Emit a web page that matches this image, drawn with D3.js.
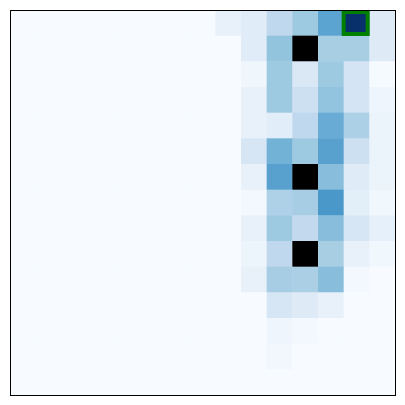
<!DOCTYPE html>
<html><head><meta charset="utf-8">
<script src="https://cdn.jsdelivr.net/npm/d3@7"></script>
<style>html,body{margin:0;padding:0;background:#fff}</style>
</head><body>
<script>
// 15x15 grid values (normalized 0..1); null = wall (drawn black)
const rowIds = d3.range(15);
const colIds = d3.range(15);
const grid = [
  [0,0,0,0,0,0,0,0,0.075,0.115,0.27,0.375,0.55,1.0,0.125],
  [0,0,0,0,0,0,0,0,0,0.115,0.404,null,0.344,0.344,0.125],
  [0,0,0,0,0,0,0,0,0,0.04,0.375,0.146,0.375,0.177,0.01],
  [0,0,0,0,0,0,0,0,0,0.075,0.375,0.214,0.402,0.177,0.045],
  [0,0,0,0,0,0,0,0,0,0.075,0.11,0.27,0.509,0.331,0.06],
  [0,0,0,0,0,0,0,0,0,0.161,0.483,0.375,0.558,0.214,0.06],
  [0,0,0,0,0,0,0,0,0,0.075,0.558,null,0.429,0.122,0.06],
  [0,0,0,0,0,0,0,0,0,0.025,0.322,0.35,0.60,0.105,0.035],
  [0,0,0,0,0,0,0,0,0,0.075,0.375,0.26,0.429,0.164,0.085],
  [0,0,0,0,0,0,0,0,0,0.05,0.27,null,0.344,0.075,0.035],
  [0,0,0,0,0,0,0,0,0,0.075,0.35,0.334,0.429,0.025,0],
  [0,0,0,0,0,0,0,0,0,0,0.164,0.125,0.075,0,0],
  [0,0,0,0,0,0,0,0,0,0,0.045,0.02,0,0,0],
  [0,0,0,0,0,0,0,0,0,0,0.03,0,0,0,0],
  [0,0,0,0,0,0,0,0,0,0,0,0,0,0,0]
];
const goalCell = [0, 13]; // [row, col]
const bluesStops = ["#f7fbff","#deebf7","#c6dbef","#9ecae1","#6baed6","#4292c6","#2171b5","#08519c","#08306b"];

const W = 405, H = 405;
const svg = d3.select("body").append("svg").attr("width", W).attr("height", H);
const x = d3.scaleBand().domain(colIds).range([10, 395]);
const y = d3.scaleBand().domain(rowIds).range([10, 395]);
const color = d3.scaleLinear().domain(d3.range(9).map(i => i / 8)).range(bluesStops);

const cells = [];
grid.forEach((row, r) => row.forEach((v, c) => cells.push({r, c, v})));

svg.append("g").selectAll("rect").data(cells).join("rect")
  .attr("x", d => x(d.c)).attr("y", d => y(d.r))
  .attr("width", x.bandwidth() + 0.5).attr("height", y.bandwidth() + 0.5)
  .attr("fill", d => d.v === null ? "#000" : color(d.v));

svg.append("rect")
  .attr("x", x(goalCell[1])).attr("y", y(goalCell[0]) + 2)
  .attr("width", x.bandwidth() - 1.7).attr("height", y.bandwidth() - 3.7)
  .attr("fill", "none").attr("stroke", "#008000").attr("stroke-width", 4);

svg.append("rect")
  .attr("x", 10.5).attr("y", 10.5).attr("width", 385).attr("height", 385)
  .attr("fill", "none").attr("stroke", "#000").attr("stroke-width", 1);
</script>
</body></html>
